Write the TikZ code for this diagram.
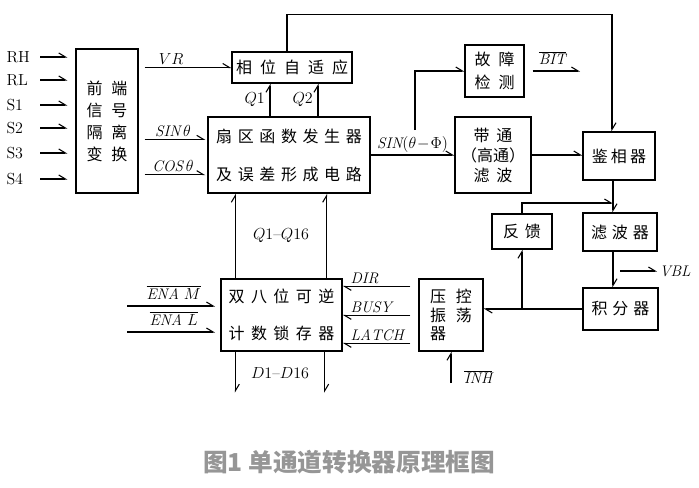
\documentclass[tikz,border=0pt]{standalone}
\usepackage{fontspec}
\usepackage{tikz}
\usetikzlibrary{arrows.meta,calc,positioning}
\newfontfamily\cjk{Noto Sans CJK SC}
\definecolor{CapGray}{RGB}{150,150,150}

\begin{document}
\begin{tikzpicture}[x=0.75pt,y=-0.75pt,line width=0.8pt,
  >={Straight Barb[left,length=5pt,width=6pt]},
  blk/.style 2 args={draw,line width=1pt,inner sep=0pt,align=center,
    font=\fontsize{12}{#2}\cjk\addfontfeature{LetterSpace=#1}},
  sig/.style={font=\fontsize{11.5}{13}\selectfont,inner sep=1.5pt},
  inl/.style={font=\fontsize{12}{14}\selectfont,inner sep=0pt}]
\useasboundingbox (0,0) rectangle (699,487);

% blocks
\node[blk={55}{16.5},minimum width=46.5pt,minimum height=108pt] (fe) at (107,121) {前端\\信号\\隔离\\变换};
\node[blk={50}{14},minimum width=90pt,minimum height=23.25pt] (adapt) at (292,67.5) {相位自适应};
\node[blk={35}{28.5},minimum width=121.5pt,minimum height=57pt] (sector) at (289,155) {扇区函数发生器\\及误差形成电路};
\node[blk={50}{17},minimum width=44.25pt,minimum height=39pt] (fault) at (494.5,71) {故障\\检测};
\node[blk={0}{15},minimum width=57pt,minimum height=57pt] (band) at (493,155) {带\hspace{5pt}通\\（高通）\\滤\hspace{5pt}波};
\node[blk={20}{14},minimum width=54pt,minimum height=36pt] (pd) at (619,156) {鉴相器};
\node[blk={30}{14},minimum width=55.5pt,minimum height=28.5pt] (filter) at (620,232) {滤波器};
\node[blk={35}{14},minimum width=45pt,minimum height=26.25pt] (fb) at (522,231.5) {反馈};
\node[blk={30}{14},minimum width=56.25pt,minimum height=31.5pt] (integ) at (620.5,309) {积分器};
\node[blk={60}{14},minimum width=48pt,minimum height=54pt,align=left] (vco) at (451,315) {压控\\振荡\\器};
\node[blk={40}{27.5},minimum width=90.75pt,minimum height=54pt] (counter) at (281.5,315) {双八位可逆\\计数锁存器};

% inputs to front end
\coordinate (inx) at (40,0);
\foreach \t/\y in {RH/57,RL/80,S1/105,S2/128,S3/153,S4/179}{
  \node[inl,anchor=west] (in\t) at (6,\y) {\t};
  \draw[->,shorten >=6pt] (inx |- in\t) -- (fe.west |- in\t);
}

% front end outputs
\coordinate (sinin) at ($(sector.north west)+(0,23)$);
\coordinate (cosin) at ($(sector.south west)+(0,-19)$);
\draw[->,shorten <=4.5pt] (fe.east |- adapt.west) -- (adapt.west) node[sig,pos=0.35,above]{$VR$};
\draw[->,shorten <=4.5pt,shorten >=1.5pt] (fe.east |- sinin) -- (sinin) node[sig,midway,above]{$\mathit{SIN}\,\theta$};
\draw[->,shorten <=4.5pt,shorten >=1.5pt] (fe.east |- cosin) -- (cosin) node[sig,midway,above]{$\mathit{COS}\,\theta$};

% Q1, Q2
\coordinate (q1) at ($(adapt.south)+(-22,0)$);
\coordinate (q2) at ($(adapt.south)+(26,0)$);
\draw[->] (q1 |- sector.north) -- (q1) node[sig,midway,left=2pt]{$Q1$};
\draw[->] (q2 |- sector.north) -- (q2) node[sig,midway,left=2pt]{$Q2$};

% loop to phase detector
\coordinate (pf) at ($(pd.south)+(-6,0)$);
\draw[->] ($(adapt.north)+(-5,0)$) -- ++(0,-37) -| ($(pd.north)+(-7,0)$);

% SIN(theta-Phi)
\draw[->] (sector.east) -- (sector.east -| band.west) node[sig,midway,above]{$\mathit{SIN}(\theta\!-\!\Phi)$};
\coordinate (tap) at (415,130);
\draw[->] (tap) |- (fault.west);
\coordinate (bitend) at (580,71);
\draw[->,shorten <=6pt] (fault.east) -- (bitend) node[sig,midway,above=3pt]{$\overline{\mathit{BIT}}$};
\draw[->] (band.east) -- (band.east -| pd.west);

% phase detector chain
\draw[->] (pf) -- (pf |- filter.north);
\coordinate (fbin) at (613,203);
\draw[->] (fb.north) |- (fbin);
\draw[->] (pf |- filter.south) -- (pf |- integ.north);
\node[sig,anchor=west] (vbl) at (657,271) {$\mathit{VBL}$};
\coordinate (vblstart) at (620,271);
\draw[->] (vblstart) -- (vbl.west);
\draw[->] (integ.west) -- (integ.west -| vco.east);
\draw[->] (fb.south |- integ.west) -- (fb.south);

% INH
\coordinate (inh) at (451,383);
\draw[->] (inh) -- (vco.south) node[sig,pos=0.2,right=8pt]{$\overline{\mathit{INH}}$};

% vco to counter
\foreach \d/\t in {8/DIR,37/BUSY,65/LATCH}{
  \coordinate (c\t) at ($(counter.north east)+(0,\d)$);
  \draw[->,shorten <=6pt] (c\t -| vco.west) -- (c\t) node[sig,pos=1,above right,xshift=4pt]{$\mathit{\t}$};
}

% enable inputs
\coordinate (enam) at (127,306);
\coordinate (enal) at (127,332);
\draw[->,shorten >=4pt] (enam) -- (enam -| counter.west) node[sig,midway,above=3pt]{$\overline{\mathit{ENA}\ M}$};
\draw[->,shorten >=4pt] (enal) -- (enal -| counter.west) node[sig,midway,above=3pt]{$\overline{\mathit{ENA}\ L}$};

% Q1-Q16 and D1-D16
\coordinate (qa) at ($(counter.north west)+(15,0)$);
\coordinate (qb) at ($(counter.north east)+(-16,0)$);
\draw[->] (qa) -- (qa |- sector.south);
\draw[->] (qb) -- (qb |- sector.south);
\node[sig] (qlbl) at ($(qa)!0.5!(qb |- sector.south)$) {$Q1$--$Q16$};
\coordinate (da) at ($(counter.south west)+(15,0)$);
\coordinate (db) at ($(counter.south east)+(-18,0)$);
\draw[->] (da) -- ++(0,41);
\draw[->] (db) -- ++(0,41);
\node[sig] (dlbl) at ($(da)!0.5!(db)+(0,21)$) {$D1$--$D16$};

% caption
\node[font=\fontsize{18.5}{20}\cjk\bfseries,text=CapGray] (cap) at (349,462) {图1 单通道转换器原理框图};
\end{tikzpicture}
\end{document}
